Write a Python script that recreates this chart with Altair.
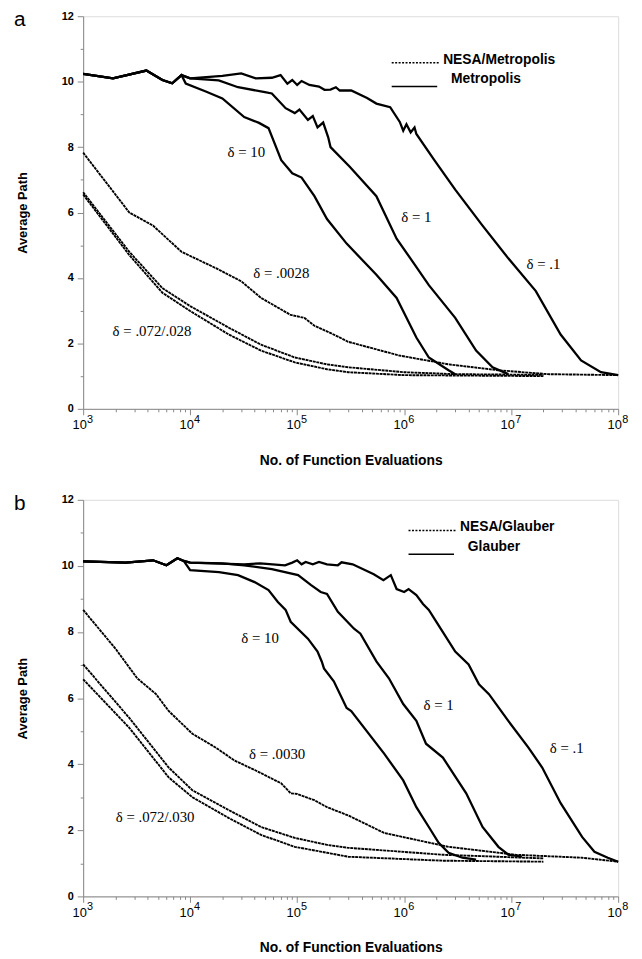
import altair as alt
import pandas as pd

# ---------------- data ----------------
# Panel a: Metropolis (solid)
a_d10_x = [1e3, 1.9e3, 3.9e3, 5.5e3, 6.8e3, 8.3e3, 9.1e3, 1.4e4, 2e4, 3.2e4, 4.4e4, 5.4e4, 7.1e4, 9e4, 1.1e5, 1.45e5, 1.9e5, 2.9e5, 5.5e5, 8.5e5, 1.3e6, 1.7e6, 2.6e6, 3e6]
a_d10_y = [10.24, 10.1, 10.34, 10.05, 9.95, 10.2, 9.94, 9.7, 9.49, 8.92, 8.74, 8.58, 7.6, 7.2, 7.07, 6.5, 5.8, 5.05, 4.1, 3.39, 2.18, 1.57, 1.18, 1.06]
a_d1_x = [1e3, 1.9e3, 3.9e3, 5.5e3, 6.8e3, 8.3e3, 1e4, 1.85e4, 2.8e4, 5e4, 5.8e4, 7.8e4, 9.5e4, 1.05e5, 1.26e5, 1.4e5, 1.55e5, 1.75e5, 1.95e5, 2.05e5, 3.1e5, 5.5e5, 8.5e5, 1.2e6, 1.7e6, 3e6, 4.7e6, 6.7e6, 9.4e6]
a_d1_y = [10.24, 10.1, 10.34, 10.05, 9.95, 10.2, 10.1, 10.04, 9.83, 9.68, 9.64, 9.19, 9.04, 9.15, 8.83, 8.95, 8.6, 8.75, 8.3, 8.0, 7.4, 6.5, 5.2, 4.5, 3.78, 2.78, 1.78, 1.27, 1.06]
a_d01_x = [1e3, 1.9e3, 3.9e3, 5.5e3, 6.8e3, 8.3e3, 1e4, 2e4, 3e4, 4.1e4, 5.8e4, 7e4, 8.1e4, 9e4, 1e5, 1.1e5, 1.3e5, 1.6e5, 1.8e5, 2.05e5, 2.3e5, 2.5e5, 3.2e5, 4.5e5, 5.5e5, 7.4e5, 9.1e5, 9.8e5, 1.05e6, 1.15e6, 1.25e6, 1.3e6, 1.9e6, 3e6, 5.4e6, 9.4e6, 1.7e7, 2.9e7, 4.5e7, 6.9e7, 1e8]
a_d01_y = [10.24, 10.1, 10.34, 10.05, 9.95, 10.2, 10.1, 10.18, 10.25, 10.1, 10.12, 10.2, 9.94, 10.05, 9.9, 10.02, 9.9, 9.85, 9.75, 9.76, 9.83, 9.73, 9.73, 9.5, 9.33, 9.22, 8.77, 8.5, 8.7, 8.45, 8.6, 8.4, 7.62, 6.7, 5.6, 4.6, 3.6, 2.27, 1.48, 1.12, 1.03]
# Panel a: NESA/Metropolis (dotted)
a_n0028_x = [1e3, 2.7e3, 4.5e3, 8.3e3, 1.74e4, 3e4, 4.6e4, 8.7e4, 1.17e5, 1.45e5, 2.2e5, 3e5, 9e5, 2.6e6, 7.6e6, 2.2e7, 1e8]
a_n0028_y = [7.83, 6.0, 5.6, 4.8, 4.3, 3.9, 3.39, 2.87, 2.78, 2.54, 2.27, 2.05, 1.63, 1.36, 1.18, 1.06, 1.03]
a_n072_x = [1e3, 2.7e3, 5.5e3, 1e4, 2.3e4, 4.6e4, 9.5e4, 1.9e5, 3e5, 1e6, 3e6, 2e7]
a_n072_y = [6.62, 4.8, 3.69, 3.14, 2.48, 1.96, 1.57, 1.36, 1.27, 1.12, 1.06, 1.04]
a_n028_x = [1e3, 2.7e3, 5.5e3, 1e4, 2.3e4, 4.6e4, 9.5e4, 1.9e5, 3e5, 1e6, 2e7]
a_n028_y = [6.55, 4.7, 3.55, 2.99, 2.27, 1.78, 1.42, 1.21, 1.12, 1.03, 1.0]

# Panel b: Glauber (solid)
b_d10_x = [1e3, 2.5e3, 4.5e3, 6e3, 7.6e3, 8.7e3, 1e4, 1.86e4, 2.8e4, 4e4, 5.4e4, 6.6e4, 7.8e4, 8.7e4, 1.26e5, 1.55e5, 1.7e5, 1.78e5, 2.2e5, 2.9e5, 3.2e5, 6.5e5, 9.8e5, 1.3e6, 1.7e6, 2.1e6, 2.6e6, 3.5e6, 4.7e6]
b_d10_y = [10.14, 10.1, 10.17, 10.02, 10.23, 10.15, 9.87, 9.81, 9.72, 9.51, 9.27, 8.91, 8.67, 8.31, 7.8, 7.41, 7.1, 6.9, 6.51, 5.7, 5.61, 4.32, 3.51, 2.7, 2.1, 1.62, 1.32, 1.17, 1.11]
b_d1_x = [1e3, 2.5e3, 4.5e3, 6e3, 7.6e3, 8.7e3, 1e4, 2e4, 3.2e4, 5.8e4, 1.02e5, 1.35e5, 1.66e5, 1.9e5, 2.4e5, 3.4e5, 3.9e5, 5.5e5, 7.2e5, 9.8e5, 1.3e6, 1.6e6, 2.3e6, 3.8e6, 5.4e6, 7.6e6, 9.4e6, 1.26e7]
b_d1_y = [10.14, 10.1, 10.17, 10.02, 10.23, 10.15, 10.1, 10.08, 10.02, 9.9, 9.72, 9.42, 9.21, 9.15, 8.61, 8.1, 7.95, 7.11, 6.6, 5.82, 5.31, 4.62, 4.2, 3.12, 2.1, 1.5, 1.26, 1.2]
b_d01_x = [1e3, 2.5e3, 4.5e3, 6e3, 7.6e3, 8.7e3, 1e4, 3.2e4, 4.5e4, 7.7e4, 9e4, 1e5, 1.1e5, 1.2e5, 1.4e5, 1.6e5, 1.9e5, 2.4e5, 2.6e5, 3.3e5, 5.2e5, 6.4e5, 7.5e5, 8.5e5, 1e6, 1.1e6, 1.3e6, 1.5e6, 1.7e6, 2e6, 3e6, 4e6, 5e6, 6.2e6, 9.4e6, 1.45e7, 1.95e7, 2.9e7, 4.6e7, 6e7, 8e7, 1e8]
b_d01_y = [10.14, 10.1, 10.17, 10.02, 10.23, 10.15, 10.1, 10.05, 10.08, 10.02, 10.1, 10.17, 10.05, 10.12, 10.05, 10.12, 10.05, 10.02, 10.11, 10.05, 9.75, 9.57, 9.72, 9.3, 9.21, 9.3, 9.12, 8.85, 8.67, 8.31, 7.41, 7.02, 6.42, 6.12, 5.31, 4.5, 3.9, 2.82, 1.8, 1.35, 1.17, 1.05]
# Panel b: NESA/Glauber (dotted)
b_n0030_x = [1e3, 2e3, 3.2e3, 4.8e3, 6.3e3, 1.05e4, 1.74e4, 2.6e4, 4.1e4, 7.1e4, 8.7e4, 1e5, 1.45e5, 1.9e5, 3e5, 6.5e5, 2.6e6, 1.1e7, 4.6e7, 1e8]
b_n0030_y = [8.67, 7.5, 6.6, 6.12, 5.61, 4.92, 4.5, 4.11, 3.81, 3.42, 3.12, 3.1, 2.91, 2.7, 2.45, 1.92, 1.5, 1.26, 1.17, 1.05]
b_n072_x = [1e3, 2.7e3, 6.3e3, 1.05e4, 2.3e4, 4.6e4, 9.5e4, 1.9e5, 3e5, 2.3e6, 2e7]
b_n072_y = [7.02, 5.4, 3.9, 3.21, 2.61, 2.1, 1.77, 1.56, 1.47, 1.26, 1.15]
b_n030_x = [1e3, 2.7e3, 6.3e3, 1.05e4, 2.3e4, 4.6e4, 9.5e4, 1.9e5, 3e5, 2.3e6, 2e7]
b_n030_y = [6.57, 5.1, 3.6, 3.0, 2.37, 1.86, 1.5, 1.32, 1.2, 1.08, 1.05]

# curve annotations
a_label_text = ["δ = 10", "δ = 1", "δ =  .1", "δ = .0028", "δ = .072/.028"]
a_label_x = [3.35e4, 1.3e6, 2.0e7, 7.1e4, 4.4e3]
a_label_y = [7.86, 5.86, 4.44, 4.14, 2.39]
b_label_text = ["δ = 10", "δ = 1", "δ = .1", "δ = .0030", "δ = .072/.030"]
b_label_x = [4.5e4, 2.1e6, 3.3e7, 6.5e4, 4.7e3]
b_label_y = [7.83, 5.79, 4.5, 4.32, 2.4]

legend_a = ["NESA/Metropolis", "Metropolis"]
legend_b = ["NESA/Glauber", "Glauber"]
panel_letters = ["a", "b"]

x_major = [1e3, 1e4, 1e5, 1e6, 1e7, 1e8]
x_exponents = ["3", "4", "5", "6", "7", "8"]
x_ticks = [m * d for d in [1e3, 1e4, 1e5, 1e6, 1e7] for m in range(1, 10)] + [1e8]
y_ticks = list(range(0, 13))

# ---------------- chart ----------------
FONT = "Liberation Sans"
major_test = "indexof([1000,10000,100000,1000000,10000000,100000000], datum.value) >= 0"

x_axis = alt.Axis(values=x_ticks, labelExpr="(" + major_test + ") ? '10' : ''",
                  labelFlush=False, labelOverlap=False, labelOffset=-4,
                  tickSize={"condition": {"test": major_test, "value": 6}, "value": 3},
                  grid=False, labelFontSize=13, labelFont=FONT, labelPadding=4,
                  titleFont=FONT, titleFontSize=14, titleFontWeight="bold", titlePadding=22)
y_axis = alt.Axis(values=y_ticks, labelExpr="datum.value % 2 == 0 ? datum.label : ''",
                  tickSize={"condition": {"test": "datum.value % 2 == 0", "value": 6}, "value": 3},
                  grid=False, labelFontSize=11, labelFont=FONT, labelFontWeight="bold", labelPadding=4,
                  titleFont=FONT, titleFontSize=13, titleFontWeight="bold", titlePadding=32)


def series_df(parts):
    rows = []
    for name, kind, xs, ys in parts:
        for xv, yv in zip(xs, ys):
            rows.append({"series": name, "kind": kind, "x": xv, "y": yv})
    return pd.DataFrame(rows)


def panel(parts, lab_text, lab_x, lab_y, legend_names, letter, height, leg_x, leg_y):
    df = series_df(parts)
    xe = alt.X("x:Q", scale=alt.Scale(type="log", domain=[1e3, 1e8]), axis=x_axis,
               title="No. of Function Evaluations")
    ye = alt.Y("y:Q", scale=alt.Scale(domain=[0, 12]), axis=y_axis, title="Average Path")
    base = alt.Chart(df)
    solid = base.transform_filter(alt.datum.kind == "solid").mark_line(
        color="black", strokeWidth=2.3).encode(x=xe, y=ye, detail="series:N")
    nesa = base.transform_filter(alt.datum.kind == "nesa").mark_line(
        color="black", strokeWidth=1.9, strokeDash=[3, 0.7]).encode(x=xe, y=ye, detail="series:N")
    labs = alt.Chart(pd.DataFrame({"text": lab_text, "x": lab_x, "y": lab_y})).mark_text(
        font="Liberation Serif", fontSize=15, color="black").encode(x=xe, y=ye, text="text:N")
    expo = alt.Chart(pd.DataFrame({"x": x_major, "e": x_exponents})).mark_text(
        font=FONT, fontSize=11, color="black", align="left", baseline="middle", dx=4).encode(
        x=xe, y=alt.value(height + 11), text="e:N")
    ldf = pd.DataFrame({"name": legend_names})
    leg_dot = alt.Chart(ldf.iloc[[0]]).mark_rule(color="black", strokeWidth=1.6, strokeDash=[2, 1.5]).encode(
        x=alt.value(leg_x), x2=alt.value(leg_x + 48), y=alt.value(leg_y))
    leg_sol = alt.Chart(ldf.iloc[[1]]).mark_rule(color="black", strokeWidth=1.4).encode(
        x=alt.value(leg_x), x2=alt.value(leg_x + 46), y=alt.value(leg_y + 24))
    leg_t1 = alt.Chart(ldf.iloc[[0]]).mark_text(font=FONT, fontSize=14, fontWeight="bold", align="left",
                                                baseline="middle", color="black").encode(
        x=alt.value(leg_x + 52), y=alt.value(leg_y - 3), text="name:N")
    leg_t2 = alt.Chart(ldf.iloc[[1]]).mark_text(font=FONT, fontSize=14, fontWeight="bold", align="left",
                                                baseline="middle", color="black").encode(
        x=alt.value(leg_x + 60), y=alt.value(leg_y + 17), text="name:N")
    let = alt.Chart(pd.DataFrame({"t": [letter]})).mark_text(font=FONT, fontSize=21, color="black",
                                                               baseline="middle", align="center").encode(
        x=alt.value(-64), y=alt.value(4), text="t:N")
    return alt.layer(solid, nesa, labs, expo, leg_dot, leg_sol, leg_t1, leg_t2, let).properties(
        width=541, height=height)


pa = panel([("d10", "solid", a_d10_x, a_d10_y), ("d1", "solid", a_d1_x, a_d1_y),
            ("d01", "solid", a_d01_x, a_d01_y), ("n0028", "nesa", a_n0028_x, a_n0028_y),
            ("n072", "nesa", a_n072_x, a_n072_y), ("n028", "nesa", a_n028_x, a_n028_y)],
           a_label_text, a_label_x, a_label_y, legend_a, panel_letters[0], 397, 312, 47)
pb = panel([("d10", "solid", b_d10_x, b_d10_y), ("d1", "solid", b_d1_x, b_d1_y),
            ("d01", "solid", b_d01_x, b_d01_y), ("n0030", "nesa", b_n0030_x, b_n0030_y),
            ("n072", "nesa", b_n072_x, b_n072_y), ("n030", "nesa", b_n030_x, b_n030_y)],
           b_label_text, b_label_x, b_label_y, legend_b, panel_letters[1], 401, 329, 31)

chart = alt.vconcat(pa, pb, spacing=24).properties(
    padding={"left": 5, "top": -5, "right": 5, "bottom": 0}
).configure_view(stroke="black", strokeWidth=2).configure_axis(
    domainColor="black", domainWidth=2, tickColor="black", tickWidth=1.5,
    labelColor="black", titleColor="black"
).configure(background="white")

chart.save("out.html", embed_options={"renderer": "svg", "actions": False})
